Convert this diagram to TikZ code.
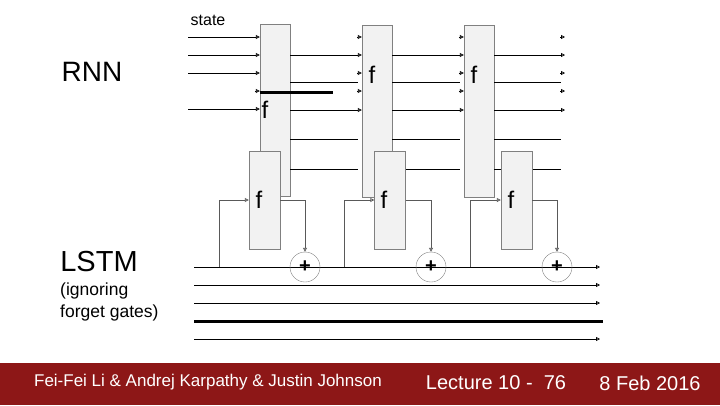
\documentclass[tikz,border=0pt]{standalone}
\usepackage{fontspec}
\setmainfont{Liberation Sans}
\usetikzlibrary{arrows.meta, calc}
\definecolor{footred}{RGB}{141,23,23}
\definecolor{cellgray}{RGB}{242,242,242}
\tikzset{
  rnncell/.style={rectangle, draw=gray, fill=cellgray, minimum width=30pt, minimum height=172pt, inner sep=0pt},
  lstmcell/.style={rectangle, draw=gray, fill=cellgray, minimum width=31pt, minimum height=98pt, inner sep=0pt},
  sumnode/.style={circle, draw=gray, minimum size=30pt, inner sep=0pt, font=\fontsize{20}{20}\selectfont\bfseries},
  fnlabel/.style={inner sep=0pt, font=\fontsize{24}{24}\selectfont},
  wire/.style={black, line width=0.8pt},
  gatewire/.style={gray!70!black, line width=0.8pt},
  tip/.style={-{Triangle[open, length=4pt, width=4pt]}},
  footer/.style={text=white, inner sep=0pt, font=\fontsize{17}{17}\selectfont}
}
\begin{document}
\begin{tikzpicture}[x=1pt, y=-1pt]
\useasboundingbox (0,0) rectangle (720,405);

% labels
\node (statelbl) at (208,20) {\fontsize{16}{16}\selectfont state};
\node (rnnlbl) at (92,72) {\fontsize{28}{28}\selectfont RNN};
\node (lstmlbl) at (99,262) {\fontsize{29}{29}\selectfont LSTM};
\node (notelbl) [anchor=north west, align=left, inner sep=0pt, font=\fontsize{17.5}{22}\selectfont] at (60,283) {(ignoring\\forget gates)};

% RNN cells
\node (rnnA) [rnncell] at (275,110.5) {};
\node (rnnB) [rnncell] at (377,111.5) {};
\node (rnnC) [rnncell] at (479,111.5) {};
\node (fA) [fnlabel] at (265,110) {f};
\node (fB) [fnlabel] at (372,75) {f};
\node (fC) [fnlabel] at (474,75) {f};

\coordinate (inL) at (188,0);
\coordinate (outR) at (565,0);

% inputs to the first cell
\foreach \y in {37,55,73,109}
  \draw [wire, tip] (inL |- 0,\y) -- (rnnA.west |- 0,\y);
\draw [wire, tip] ($(rnnA.west |- 0,91)+(-5,0)$) -- (rnnA.west |- 0,91);

% between cells
\foreach \a/\b in {rnnA/rnnB, rnnB/rnnC} {
  \foreach \y in {37,73,91}
    \draw [wire, tip] ($(\b.west |- 0,\y)+(-5,0)$) -- (\b.west |- 0,\y);
  \foreach \y in {55,110}
    \draw [wire, tip] (\a.east |- 0,\y) -- (\b.west |- 0,\y);
  \foreach \y in {82,139,169}
    \draw [wire] (\a.east |- 0,\y) -- ($(\b.west |- 0,\y)+(-4,0)$);
}

% after the last cell
\foreach \y in {37,73,91}
  \draw [wire, tip] ($(outR |- 0,\y)+(-5,0)$) -- (outR |- 0,\y);
\foreach \y in {55,110}
  \draw [wire, tip] (rnnC.east |- 0,\y) -- (outR |- 0,\y);
\foreach \y in {82,139,169}
  \draw [wire] (rnnC.east |- 0,\y) -- ($(outR |- 0,\y)+(-4,0)$);

\draw [line width=3pt] (rnnA.west |- 0,92) -- (333,92);

% LSTM cells
\node (lstmA) [lstmcell] at (264.5,200) {};
\node (lstmB) [lstmcell] at (390,200) {};
\node (lstmC) [lstmcell] at (516.5,200) {};
\node (gA) [fnlabel] at (259,200) {f};
\node (gB) [fnlabel] at (384,200) {f};
\node (gC) [fnlabel] at (511,200) {f};

% lanes
\coordinate (laneL) at (194,0);
\coordinate (laneR) at (600,0);
\foreach \y in {267,285,303,339}
  \draw [wire, tip] (laneL |- 0,\y) -- (laneR |- 0,\y);
\draw [line width=3pt] (laneL |- 0,321) -- ($(laneR |- 0,321)+(3,0)$);

% sums
\node (sumA) [sumnode] at (305,267) {+};
\node (sumB) [sumnode] at (431,267) {+};
\node (sumC) [sumnode] at (557,267) {+};

\foreach \c/\s/\x in {lstmA/sumA/219, lstmB/sumB/344, lstmC/sumC/470} {
  \draw [gatewire, tip] (\x,267) |- (\c.west);
  \draw [gatewire, tip] (\c.east) -| (\s.north);
}

% footer
\fill [footred] (0,363) rectangle (720,405);
\node (authors) [footer] at (208,382) {Fei-Fei Li \& Andrej Karpathy \& Justin Johnson};
\node (lecture) [footer, font=\fontsize{20}{20}\selectfont] at (496,383) {Lecture 10 -\ \ 76};
\node (date) [footer, font=\fontsize{20}{20}\selectfont] at (650,383) {8 Feb 2016};
\end{tikzpicture}
\end{document}
